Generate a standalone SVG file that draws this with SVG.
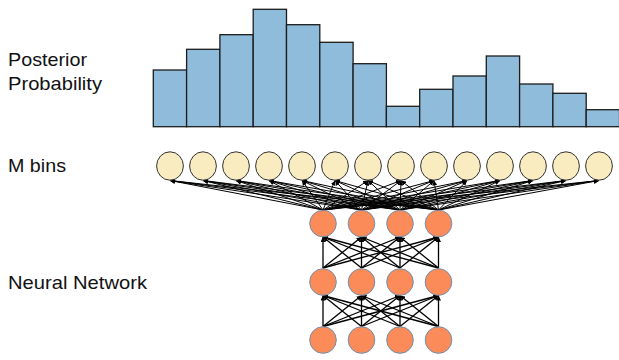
<svg xmlns="http://www.w3.org/2000/svg" width="619" height="360" viewBox="0 0 619 360">
  <style>
    .lbl { font-family: "Liberation Sans", Arial, sans-serif; font-size: 19px; fill: #111; }
    .bar { fill: #8fbcdb; stroke: #1c1c1c; stroke-width: 1.3; }
    .bin { fill: #f8ecc0; stroke: #333; stroke-width: 1; }
    .unit { fill: #fb8c59; stroke: #6f8fae; stroke-width: 1; }
    .edge { stroke: #000; stroke-width: 1; fill: none; marker-end: url(#tip); }
    .edge2 { stroke: #000; stroke-width: 1.3; fill: none; marker-end: url(#tip); }
  </style>
  <defs>
    <marker id="tip" viewBox="0 0 10 10" refX="10" refY="5" markerWidth="5" markerHeight="5" markerUnits="userSpaceOnUse" orient="auto">
      <path d="M0,0 L10,5 L0,10 z" fill="#000"/>
    </marker>
  </defs>

  <rect width="619" height="360" fill="#fff"/>

  <!-- labels -->
  <text class="lbl" x="8" y="66" textLength="79" lengthAdjust="spacingAndGlyphs">Posterior</text>
  <text class="lbl" x="8" y="90" textLength="94" lengthAdjust="spacingAndGlyphs">Probability</text>
  <text class="lbl" x="8" y="172" textLength="58" lengthAdjust="spacingAndGlyphs">M bins</text>
  <text class="lbl" x="8" y="289" textLength="139" lengthAdjust="spacingAndGlyphs">Neural Network</text>

  <!-- histogram of the posterior -->
  <g id="histogram">
    <rect class="bar" x="153.3" y="70" width="33.3" height="56.7"/>
    <rect class="bar" x="186.6" y="49.3" width="33.3" height="77.4"/>
    <rect class="bar" x="219.9" y="34.7" width="33.3" height="92"/>
    <rect class="bar" x="253.2" y="9.3" width="33.3" height="117.4"/>
    <rect class="bar" x="286.5" y="24.7" width="33.3" height="102"/>
    <rect class="bar" x="319.8" y="42.3" width="33.3" height="84.4"/>
    <rect class="bar" x="353.1" y="63.7" width="33.3" height="63"/>
    <rect class="bar" x="386.4" y="106.3" width="33.3" height="20.4"/>
    <rect class="bar" x="419.7" y="89.3" width="33.3" height="37.4"/>
    <rect class="bar" x="453" y="76" width="33.3" height="50.7"/>
    <rect class="bar" x="486.3" y="56" width="33.3" height="70.7"/>
    <rect class="bar" x="519.6" y="84" width="33.3" height="42.7"/>
    <rect class="bar" x="552.9" y="93.3" width="33.3" height="33.4"/>
    <rect class="bar" x="586.2" y="109.7" width="33.3" height="17"/>
  </g>

  <!-- connectors -->
  <g id="connectors">
    <!-- top hidden layer to bins -->
    <line class="edge" x1="323" y1="210" x2="170" y2="180.5"/>
    <line class="edge" x1="323" y1="210" x2="203" y2="180.5"/>
    <line class="edge" x1="323" y1="210" x2="236" y2="180.5"/>
    <line class="edge" x1="323" y1="210" x2="269" y2="180.5"/>
    <line class="edge" x1="323" y1="210" x2="302" y2="180.5"/>
    <line class="edge" x1="323" y1="210" x2="335" y2="180.5"/>
    <line class="edge" x1="323" y1="210" x2="368" y2="180.5"/>
    <line class="edge" x1="323" y1="210" x2="401" y2="180.5"/>
    <line class="edge" x1="323" y1="210" x2="434" y2="180.5"/>
    <line class="edge" x1="323" y1="210" x2="467" y2="180.5"/>
    <line class="edge" x1="323" y1="210" x2="500" y2="180.5"/>
    <line class="edge" x1="323" y1="210" x2="533" y2="180.5"/>
    <line class="edge" x1="323" y1="210" x2="566" y2="180.5"/>
    <line class="edge" x1="323" y1="210" x2="599" y2="180.5"/>

    <line class="edge" x1="361.5" y1="210" x2="170" y2="180.5"/>
    <line class="edge" x1="361.5" y1="210" x2="203" y2="180.5"/>
    <line class="edge" x1="361.5" y1="210" x2="236" y2="180.5"/>
    <line class="edge" x1="361.5" y1="210" x2="269" y2="180.5"/>
    <line class="edge" x1="361.5" y1="210" x2="302" y2="180.5"/>
    <line class="edge" x1="361.5" y1="210" x2="335" y2="180.5"/>
    <line class="edge" x1="361.5" y1="210" x2="368" y2="180.5"/>
    <line class="edge" x1="361.5" y1="210" x2="401" y2="180.5"/>
    <line class="edge" x1="361.5" y1="210" x2="434" y2="180.5"/>
    <line class="edge" x1="361.5" y1="210" x2="467" y2="180.5"/>
    <line class="edge" x1="361.5" y1="210" x2="500" y2="180.5"/>
    <line class="edge" x1="361.5" y1="210" x2="533" y2="180.5"/>
    <line class="edge" x1="361.5" y1="210" x2="566" y2="180.5"/>
    <line class="edge" x1="361.5" y1="210" x2="599" y2="180.5"/>

    <line class="edge" x1="400" y1="210" x2="170" y2="180.5"/>
    <line class="edge" x1="400" y1="210" x2="203" y2="180.5"/>
    <line class="edge" x1="400" y1="210" x2="236" y2="180.5"/>
    <line class="edge" x1="400" y1="210" x2="269" y2="180.5"/>
    <line class="edge" x1="400" y1="210" x2="302" y2="180.5"/>
    <line class="edge" x1="400" y1="210" x2="335" y2="180.5"/>
    <line class="edge" x1="400" y1="210" x2="368" y2="180.5"/>
    <line class="edge" x1="400" y1="210" x2="401" y2="180.5"/>
    <line class="edge" x1="400" y1="210" x2="434" y2="180.5"/>
    <line class="edge" x1="400" y1="210" x2="467" y2="180.5"/>
    <line class="edge" x1="400" y1="210" x2="500" y2="180.5"/>
    <line class="edge" x1="400" y1="210" x2="533" y2="180.5"/>
    <line class="edge" x1="400" y1="210" x2="566" y2="180.5"/>
    <line class="edge" x1="400" y1="210" x2="599" y2="180.5"/>

    <line class="edge" x1="438.5" y1="210" x2="170" y2="180.5"/>
    <line class="edge" x1="438.5" y1="210" x2="203" y2="180.5"/>
    <line class="edge" x1="438.5" y1="210" x2="236" y2="180.5"/>
    <line class="edge" x1="438.5" y1="210" x2="269" y2="180.5"/>
    <line class="edge" x1="438.5" y1="210" x2="302" y2="180.5"/>
    <line class="edge" x1="438.5" y1="210" x2="335" y2="180.5"/>
    <line class="edge" x1="438.5" y1="210" x2="368" y2="180.5"/>
    <line class="edge" x1="438.5" y1="210" x2="401" y2="180.5"/>
    <line class="edge" x1="438.5" y1="210" x2="434" y2="180.5"/>
    <line class="edge" x1="438.5" y1="210" x2="467" y2="180.5"/>
    <line class="edge" x1="438.5" y1="210" x2="500" y2="180.5"/>
    <line class="edge" x1="438.5" y1="210" x2="533" y2="180.5"/>
    <line class="edge" x1="438.5" y1="210" x2="566" y2="180.5"/>
    <line class="edge" x1="438.5" y1="210" x2="599" y2="180.5"/>

    <!-- middle layer to top layer -->
    <line class="edge2" x1="323" y1="268" x2="323" y2="237"/>
    <line class="edge2" x1="323" y1="268" x2="361.5" y2="237"/>
    <line class="edge2" x1="323" y1="268" x2="400" y2="237"/>
    <line class="edge2" x1="323" y1="268" x2="438.5" y2="237"/>
    <line class="edge2" x1="361.5" y1="268" x2="323" y2="237"/>
    <line class="edge2" x1="361.5" y1="268" x2="361.5" y2="237"/>
    <line class="edge2" x1="361.5" y1="268" x2="400" y2="237"/>
    <line class="edge2" x1="361.5" y1="268" x2="438.5" y2="237"/>
    <line class="edge2" x1="400" y1="268" x2="323" y2="237"/>
    <line class="edge2" x1="400" y1="268" x2="361.5" y2="237"/>
    <line class="edge2" x1="400" y1="268" x2="400" y2="237"/>
    <line class="edge2" x1="400" y1="268" x2="438.5" y2="237"/>
    <line class="edge2" x1="438.5" y1="268" x2="323" y2="237"/>
    <line class="edge2" x1="438.5" y1="268" x2="361.5" y2="237"/>
    <line class="edge2" x1="438.5" y1="268" x2="400" y2="237"/>
    <line class="edge2" x1="438.5" y1="268" x2="438.5" y2="237"/>

    <!-- input layer to middle layer -->
    <line class="edge2" x1="323" y1="326.5" x2="323" y2="295.5"/>
    <line class="edge2" x1="323" y1="326.5" x2="361.5" y2="295.5"/>
    <line class="edge2" x1="323" y1="326.5" x2="400" y2="295.5"/>
    <line class="edge2" x1="323" y1="326.5" x2="438.5" y2="295.5"/>
    <line class="edge2" x1="361.5" y1="326.5" x2="323" y2="295.5"/>
    <line class="edge2" x1="361.5" y1="326.5" x2="361.5" y2="295.5"/>
    <line class="edge2" x1="361.5" y1="326.5" x2="400" y2="295.5"/>
    <line class="edge2" x1="361.5" y1="326.5" x2="438.5" y2="295.5"/>
    <line class="edge2" x1="400" y1="326.5" x2="323" y2="295.5"/>
    <line class="edge2" x1="400" y1="326.5" x2="361.5" y2="295.5"/>
    <line class="edge2" x1="400" y1="326.5" x2="400" y2="295.5"/>
    <line class="edge2" x1="400" y1="326.5" x2="438.5" y2="295.5"/>
    <line class="edge2" x1="438.5" y1="326.5" x2="323" y2="295.5"/>
    <line class="edge2" x1="438.5" y1="326.5" x2="361.5" y2="295.5"/>
    <line class="edge2" x1="438.5" y1="326.5" x2="400" y2="295.5"/>
    <line class="edge2" x1="438.5" y1="326.5" x2="438.5" y2="295.5"/>
  </g>

  <!-- M bins -->
  <g id="bin1"><ellipse class="bin" cx="170" cy="166" rx="13.4" ry="14.2"/></g>
  <g id="bin2"><ellipse class="bin" cx="203" cy="166" rx="13.4" ry="14.2"/></g>
  <g id="bin3"><ellipse class="bin" cx="236" cy="166" rx="13.4" ry="14.2"/></g>
  <g id="bin4"><ellipse class="bin" cx="269" cy="166" rx="13.4" ry="14.2"/></g>
  <g id="bin5"><ellipse class="bin" cx="302" cy="166" rx="13.4" ry="14.2"/></g>
  <g id="bin6"><ellipse class="bin" cx="335" cy="166" rx="13.4" ry="14.2"/></g>
  <g id="bin7"><ellipse class="bin" cx="368" cy="166" rx="13.4" ry="14.2"/></g>
  <g id="bin8"><ellipse class="bin" cx="401" cy="166" rx="13.4" ry="14.2"/></g>
  <g id="bin9"><ellipse class="bin" cx="434" cy="166" rx="13.4" ry="14.2"/></g>
  <g id="bin10"><ellipse class="bin" cx="467" cy="166" rx="13.4" ry="14.2"/></g>
  <g id="bin11"><ellipse class="bin" cx="500" cy="166" rx="13.4" ry="14.2"/></g>
  <g id="bin12"><ellipse class="bin" cx="533" cy="166" rx="13.4" ry="14.2"/></g>
  <g id="bin13"><ellipse class="bin" cx="566" cy="166" rx="13.4" ry="14.2"/></g>
  <g id="bin14"><ellipse class="bin" cx="599" cy="166" rx="13.4" ry="14.2"/></g>

  <!-- network units: top layer -->
  <g id="h1a"><circle class="unit" cx="323" cy="223.5" r="13.3"/></g>
  <g id="h1b"><circle class="unit" cx="361.5" cy="223.5" r="13.3"/></g>
  <g id="h1c"><circle class="unit" cx="400" cy="223.5" r="13.3"/></g>
  <g id="h1d"><circle class="unit" cx="438.5" cy="223.5" r="13.3"/></g>
  <!-- middle layer -->
  <g id="h2a"><circle class="unit" cx="323" cy="282" r="13.3"/></g>
  <g id="h2b"><circle class="unit" cx="361.5" cy="282" r="13.3"/></g>
  <g id="h2c"><circle class="unit" cx="400" cy="282" r="13.3"/></g>
  <g id="h2d"><circle class="unit" cx="438.5" cy="282" r="13.3"/></g>
  <!-- input layer -->
  <g id="in_a"><circle class="unit" cx="323" cy="340" r="13.3"/></g>
  <g id="in_b"><circle class="unit" cx="361.5" cy="340" r="13.3"/></g>
  <g id="in_c"><circle class="unit" cx="400" cy="340" r="13.3"/></g>
  <g id="in_d"><circle class="unit" cx="438.5" cy="340" r="13.3"/></g>
</svg>
